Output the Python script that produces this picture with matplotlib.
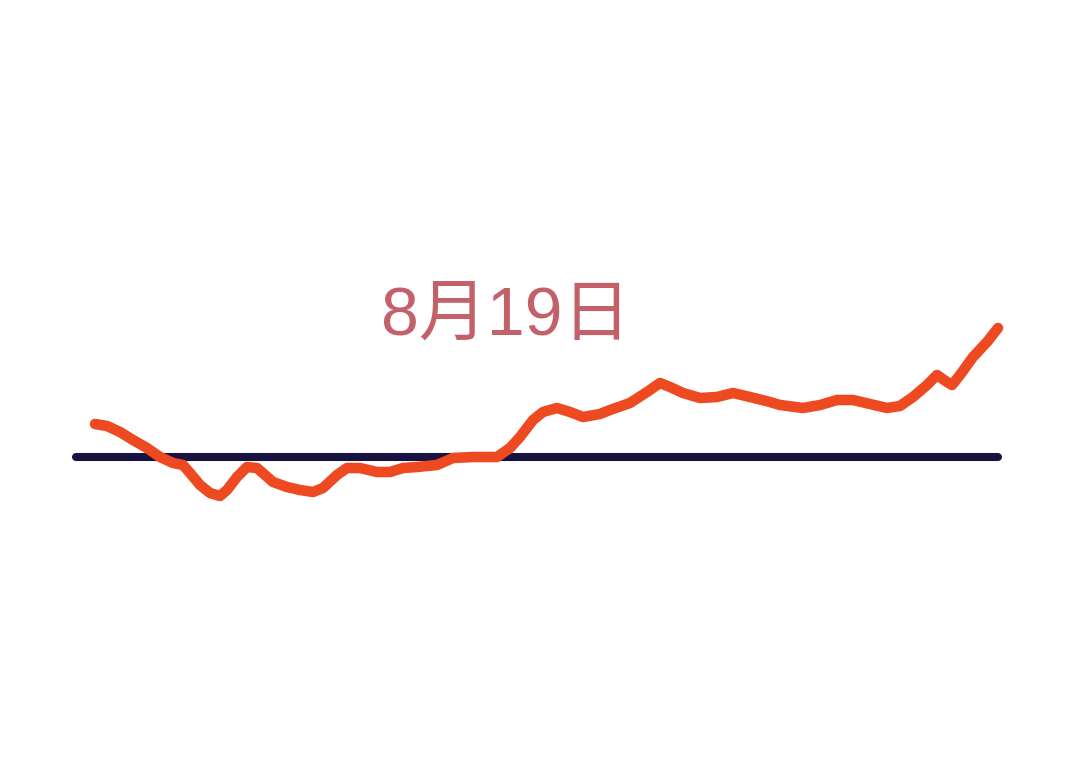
#!/usr/bin/env python3
"""Hand-drawn style line vs. a flat baseline, labelled 8月19日"""
import matplotlib.pyplot as plt

plt.rcParams['font.family'] = ['Liberation Sans', 'Noto Sans CJK SC', 'DejaVu Sans']

# traced points of the orange curve (x position, height from bottom edge)
curve_x = [95, 107, 120, 133, 147, 160, 173, 183, 190, 200, 210, 220, 227,
           237, 247, 257, 273, 287, 300, 313, 323, 337, 347, 360, 377, 390,
           403, 417, 437, 453, 473, 497, 510, 520, 533, 543, 557, 570, 583,
           600, 610, 630, 647, 660, 670, 683, 700, 717, 733, 750, 770, 780,
           803, 820, 837, 853, 870, 887, 900, 913, 927, 937, 947, 952, 960,
           973, 987, 998]
curve_y = [335, 333, 327, 319, 311, 302, 296, 294, 286, 274, 266, 263, 269,
           282, 292, 291, 277, 272, 269, 267, 271, 284, 291, 291, 287, 287,
           291, 292, 294, 301, 302, 302, 311, 322, 339, 347, 351, 347, 342,
           345, 349, 356, 367, 376, 372, 366, 361, 362, 366, 362, 357, 354,
           351, 354, 359, 359, 355, 351, 353, 362, 374, 384, 377, 374, 384,
           402, 417, 431]

# flat reference line
base_x = [76, 998]
base_y = [302, 302]

title = "8月19日"


def draw():
    fig = plt.figure(figsize=(10.8, 7.59), dpi=100)
    ax = fig.add_axes([0, 0, 1, 1])
    ax.set_xlim(0, 1080)
    ax.set_ylim(0, 759)
    ax.axis("off")

    ax.plot(base_x, base_y, color="#17123f", linewidth=5.8,
            solid_capstyle="round", zorder=1)
    ax.plot(curve_x, curve_y, color="#ee4a22", linewidth=7.6,
            solid_capstyle="round", solid_joinstyle="round", zorder=2)

    ax.text(506, 441, title, color="#c4606a", fontsize=49,
            ha="center", va="center")

    fig.savefig("out.png", dpi=100, facecolor="white")


draw()
